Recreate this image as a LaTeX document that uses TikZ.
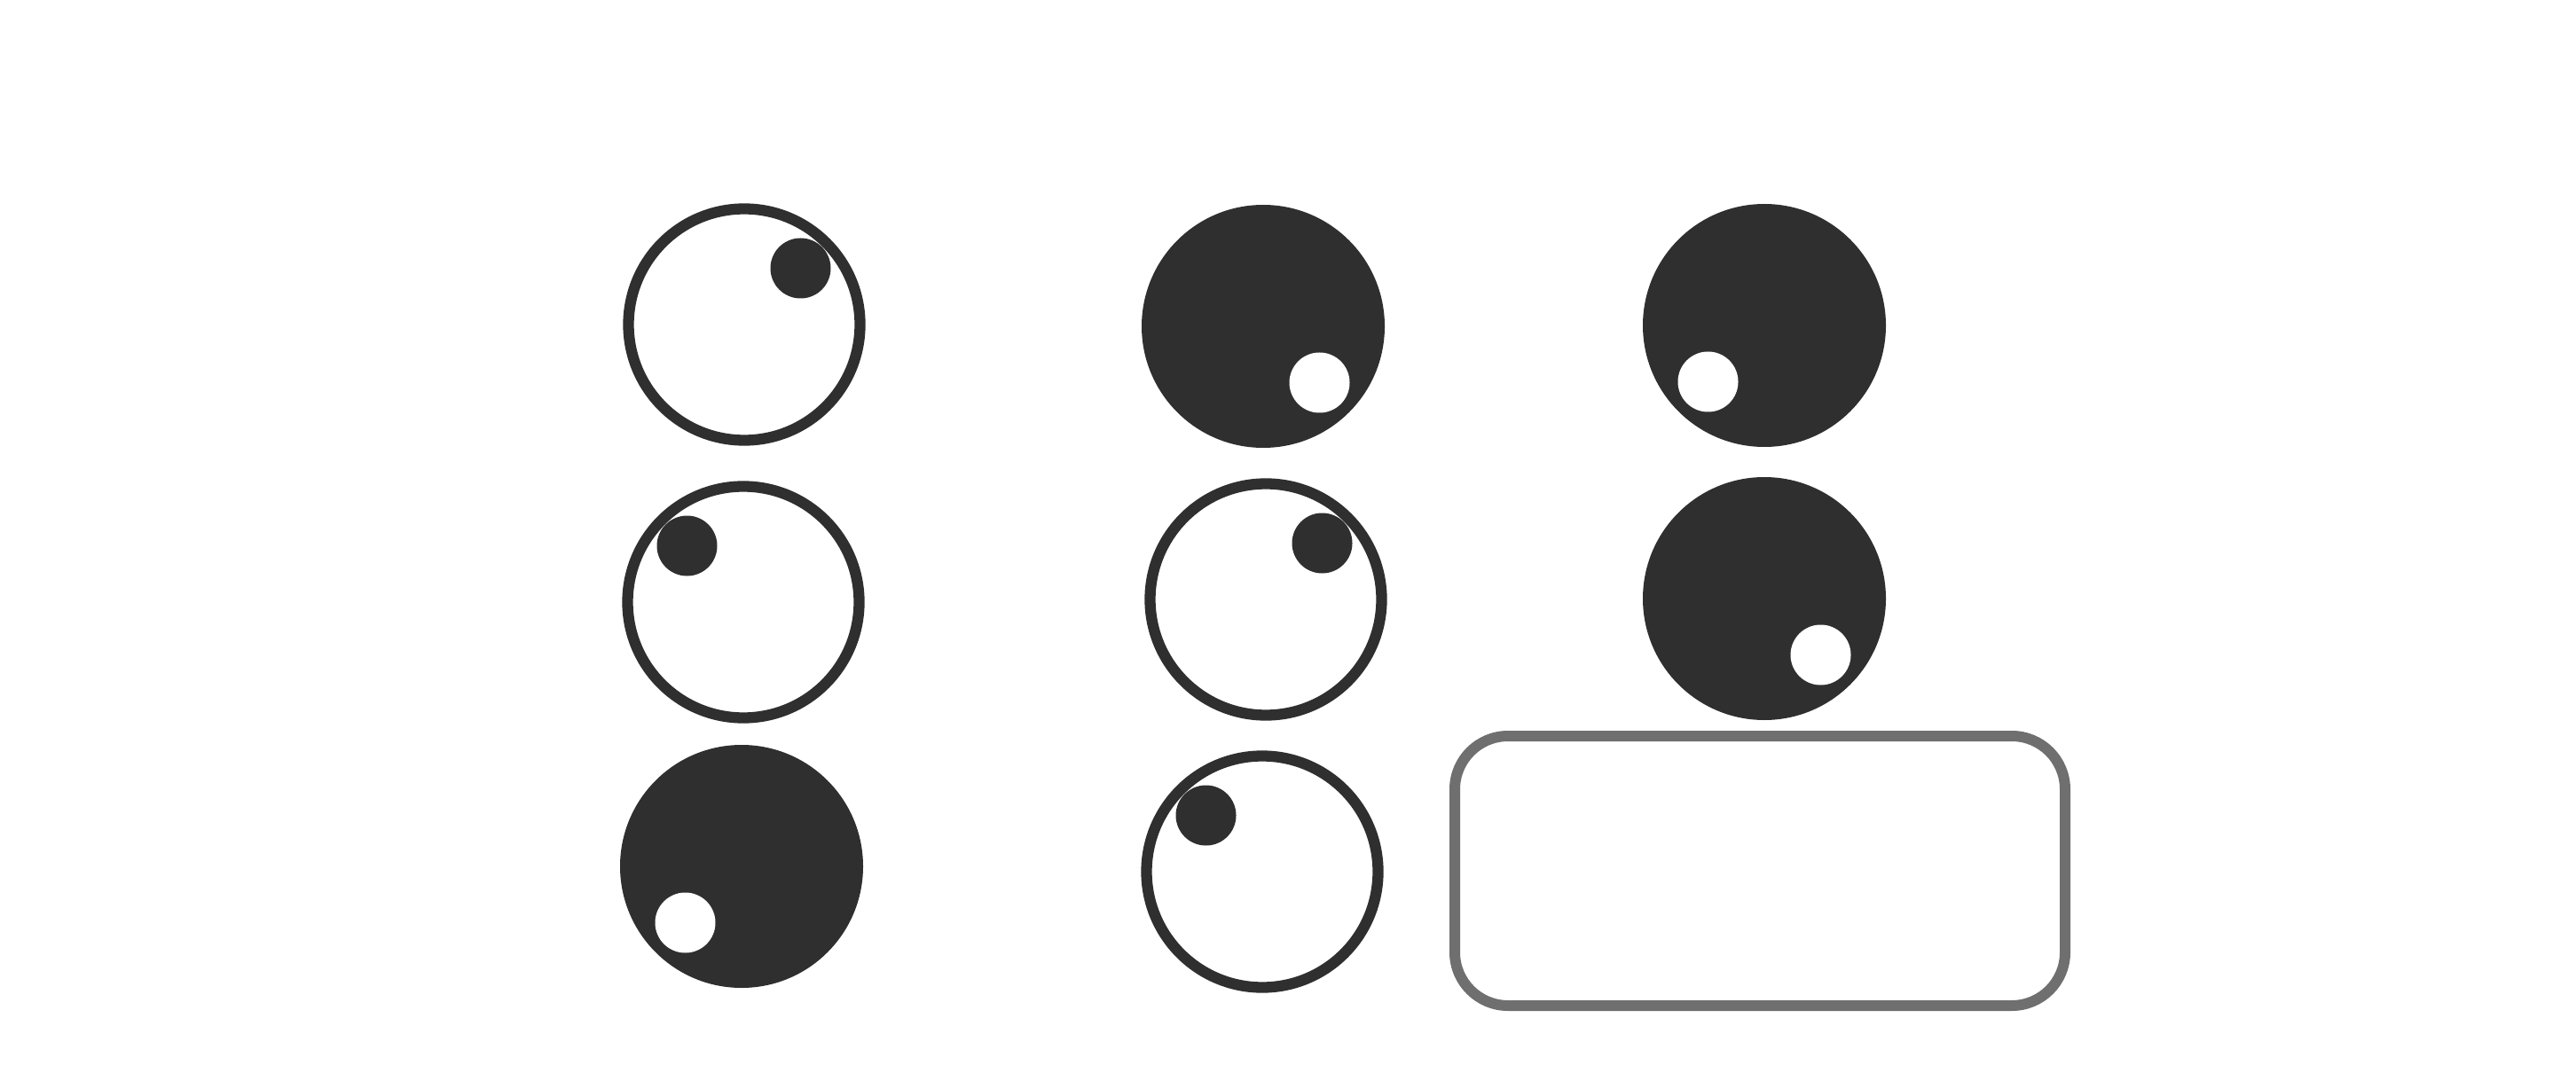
\documentclass[tikz,border=0pt]{standalone}
\usepackage{xcolor}
\usepackage{tikz}
\usetikzlibrary{positioning}

\definecolor{ink}{HTML}{2F2F2F}
\definecolor{panelgray}{HTML}{6E6F6E}

\begin{document}
\begin{tikzpicture}[
  ring/.style={circle,draw=ink,fill=white,line width=0.123cm,minimum size=2.61cm,inner sep=0pt},
  disc/.style={circle,fill=ink,minimum size=2.74cm,inner sep=0pt},
  knob/.style={circle,fill=ink,minimum size=0.68cm,inner sep=0pt},
  pit/.style={circle,fill=white,minimum size=0.68cm,inner sep=0pt},
  panel/.style={draw=panelgray,rounded corners=0.6cm,line width=0.12cm,minimum width=6.88cm,minimum height=3.04cm,inner sep=0pt}
]
\path[use as bounding box] (0,0) rectangle (29.04,-12.10);

% first column
\node[ring] (a1) at (8.39,-3.66) {};
\node[ring] (a2) at (8.38,-6.79) {};
\node[disc] (a3) at (8.36,-9.77) {};

% second column
\node[disc] (b1) at (14.24,-3.68) {};
\node[ring] (b2) at (14.27,-6.76) {};
\node[ring] (b3) at (14.23,-9.83) {};

% third column
\node[disc] (c1) at (19.89,-3.67) {};
\node[disc] (c2) at (19.89,-6.75) {};
\node[panel] (board) at (19.84,-9.82) {};

\node[knob,on grid,above right=0.635 and 0.635 of a1] (a1k) {};
\node[knob,on grid,above left=0.635 and 0.635 of a2] (a2k) {};
\node[pit,on grid,below left=0.635 and 0.635 of a3] (a3p) {};
\node[pit,on grid,below right=0.635 and 0.635 of b1] (b1p) {};
\node[knob,on grid,above right=0.635 and 0.635 of b2] (b2k) {};
\node[knob,on grid,above left=0.635 and 0.635 of b3] (b3k) {};
\node[pit,on grid,below left=0.635 and 0.635 of c1] (c1p) {};
\node[pit,on grid,below right=0.635 and 0.635 of c2] (c2p) {};

\end{tikzpicture}
\end{document}
